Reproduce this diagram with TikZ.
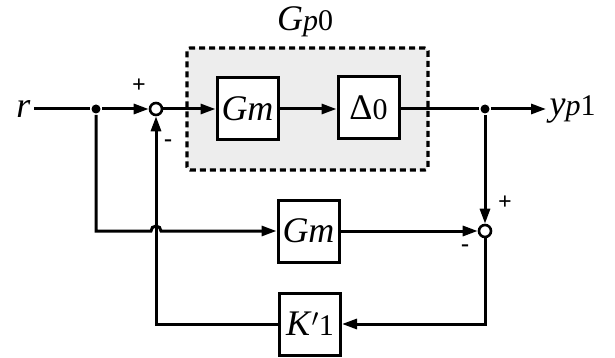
\documentclass[tikz,border=0pt]{standalone}
\usepackage{fontspec}
\setmainfont{Liberation Serif}
\usetikzlibrary{arrows.meta}
\begin{document}
\begin{tikzpicture}[x=1pt,y=-1pt, line width=3pt,
  blk/.style={draw, fill=white, minimum width=61pt, minimum height=62pt, inner sep=0pt, font=\fontsize{36}{40}\selectfont},
  sumc/.style={draw, circle, minimum size=12pt, inner sep=0pt, fill=white, line width=2.6pt},
  dotj/.style={circle, fill, inner sep=0pt, minimum size=9pt},
  arr/.style={-{Triangle[length=15pt,width=10pt]}},
  sgn/.style={font=\fontsize{24}{26}\selectfont\bfseries},
  lbl/.style={font=\fontsize{36}{40}\selectfont, inner sep=2pt},
  plant/.style={draw, dash pattern=on 6pt off 4pt, line width=3.2pt, fill=black!7, rounded corners=3pt, minimum width=241pt, minimum height=122pt}]
\useasboundingbox (0,0) rectangle (615,358);
\newcommand{\smalltxt}[1]{{\fontsize{30}{34}\selectfont #1}}
% plant box
\node[plant] (gp) at (307.5,109) {};
\node[lbl] (gplbl) at (305,22) {\textit{G}\smalltxt{\textit{p}0}};
% blocks
\node[blk] (gm) at (247.5,109) {\textit{Gm}};
\node[blk] (d0) at (368.5,108) {Δ\smalltxt{0}};
\node[blk] (gm2) at (308.5,231) {\textit{Gm}};
\node[blk] (k) at (310,324) {\textit{K}$'$\smalltxt{1}};
% summers and junctions
\node[sumc] (s1) at (156,109) {};
\node[sumc] (s2) at (485,231) {};
\node[dotj] (j1) at (96,109) {};
\node[dotj] (j2) at (485,109) {};
% signals
\node[lbl, anchor=east] (r) at (34,109) {\textit{r}};
\node[lbl, anchor=west] (yp) at (546,109) {\textit{y}\smalltxt{\textit{p}1}};
% signs
\node[sgn] (p1) at (139,86) {+};
\node[sgn] (m1) at (168,143) {-};
\node[sgn] (p2) at (505,203) {+};
\node[sgn] (m2) at (465,248) {-};
% connectors
\draw (r.east) -- (j1);
\draw[arr] (j1) -- (s1.west);
\draw[arr] (s1.east) -- (gm.west);
\draw[arr] (gm.east) -- (d0.west |- gm.east);
\draw (d0.east |- j2) -- (j2);
\draw[arr] (j2) -- (yp.west);
\draw[arr] (j2) -- (s2.north);
\coordinate (bl) at (151,231);
\draw[arr] (j1) |- (bl) arc (180:360:5) -- (gm2.west);
\draw[arr] (gm2.east) -- (s2.west);
\draw[arr] (s2.south) |- (k.east);
\draw[arr] (k.west) -| (s1.south);
\end{tikzpicture}
\end{document}
